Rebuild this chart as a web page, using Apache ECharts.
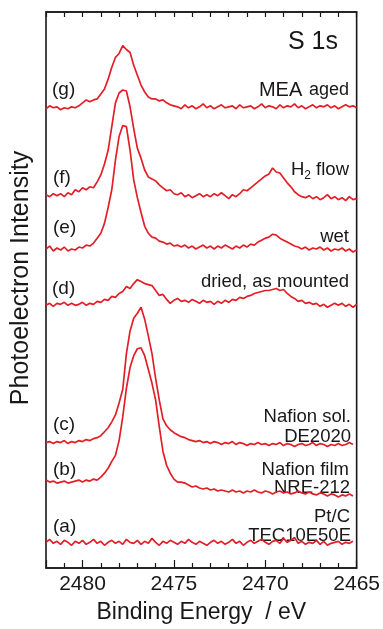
<!DOCTYPE html>
<html>
<head>
<meta charset="utf-8">
<title>S 1s XPS spectra</title>
<script src="https://cdn.jsdelivr.net/npm/echarts@6/dist/echarts.min.js"></script>
<style>
  html, body { margin: 0; padding: 0; background: #fff; }
  #chart { width: 383px; height: 629px; }
</style>
</head>
<body>
<div id="chart"></div>
<script>
// binding energy grid: 2482 eV downwards in 0.2 eV steps
var energyStart = 2482;
var energyStep = 0.2;
var xTicks = [2480, 2475, 2470, 2465];

// stacked spectra, arbitrary intensity units (offsets already included)
var specG = [470,473,471,472,469,471,470,472,471,473,
  476,479,477,479,480,485,490,500,512,522,
  526,534,530,527,514,504,494,487,482,480,
  480,478,479,476,474,473,
  472,470,474,471,473,470,472,475,471,473,
  470,472,474,471,472,473,470,474,471,472,
  473,470,472,475,471,473,472,470,474,471,
  473,472,475,471,473,470,472,474,471,473,
  472,474,471,473,470,472,474,472,473,471];
var specF = [383,381,384,382,384,381,385,383,388,386,
  390,388,391,390,396,403,414,428,452,476,
  486,489,488,472,450,430,420,408,401,399,
  397,393,390,387,388,384,383,385,381,383,
  380,382,384,381,383,381,384,382,385,382,
  379,383,381,384,388,387,390,393,396,399,
  402,404,410,406,405,400,395,391,386,383,
  381,380,382,379,381,378,380,383,379,381,
  378,380,377,381,378,379];
var specE = [328,331,326,329,327,330,326,328,327,330,
  329,332,331,334,339,344,354,370,388,418,
  442,453,452,428,398,380,365,351,344,340,
  339,336,335,333,334,331,332,330,332,329,
  331,328,330,332,329,331,328,331,329,332,
  330,328,331,329,332,330,333,332,335,337,
  339,340,343,342,339,337,335,333,331,330,
  328,330,327,329,328,330,327,329,326,328,
  327,329,326,328,325,327];
var specD = [271,273,270,273,272,274,271,273,271,272,
  274,271,273,272,275,274,277,276,280,279,
  283,285,290,288,293,297,295,293,292,291,
  286,281,282,277,273,276,278,275,276,274,
  277,275,273,276,274,275,272,275,273,276,
  274,277,276,279,278,280,281,283,284,285,
  286,286,287,288,286,287,283,280,278,275,
  276,273,274,272,273,270,272,269,271,273,
  271,273,270,272,269,272];
var specC = [132,133,131,133,132,134,131,133,132,134,
  133,135,134,136,137,139,143,147,153,160,
  172,186,222,245,258,263,269,257,240,222,
  197,175,156,149,145,142,140,138,137,135,
  134,133,134,132,133,131,133,132,130,132,
  131,133,130,132,131,129,131,130,132,130,
  131,129,131,130,132,129,131,130,128,130,
  131,129,130,132,129,131,130,128,130,129,
  131,129,130,132,130];
var specB = [94,92,93,91,92,93,91,92,93,94,
  92,94,93,95,94,97,101,106,113,119,
  134,158,187,208,220,227,228,220,206,192,
  175,148,123,109,101,95,92,92,91,89,
  87,88,86,85,86,84,85,83,84,83,
  82,84,82,83,81,83,82,84,82,81,
  83,82,80,82,83,81,82,80,81,83,
  81,80,82,80,79,81,80,78,80,79,
  77,79,78,80,78];
var specA = [31,34,30,32,29,33,31,28,32,30,
  33,29,31,34,30,32,28,31,33,30,
  32,29,34,31,30,33,29,32,30,35,
  31,28,32,30,33,31,29,32,30,34,
  31,29,32,30,28,31,33,30,32,29,
  31,34,30,32,28,31,33,30,32,34,
  31,29,32,33,30,35,31,33,36,30,
  32,29,31,30,33,29,32,28,30,31,
  32,29,31,30,32];

var seriesNames = ['(g) MEA aged', '(f) H2 flow', '(e) wet', '(d) dried, as mounted',
  '(c) Nafion sol. DE2020', '(b) Nafion film NRE-212', '(a) Pt/C TEC10E50E'];
var spectra = [specG, specF, specE, specD, specC, specB, specA];

var ink = '#1a1718';
var red = '#e41e26';
var font = '"Liberation Sans", Arial, sans-serif';

function toPoints(values) {
  return values.map(function (v, i) {
    return [+(energyStart - energyStep * i).toFixed(1), v];
  });
}

// text annotation helper
function txt(text, x, y, size, align) {
  return {
    type: 'text', x: x, y: y, silent: true,
    style: { text: text, fill: ink, fontSize: size, fontFamily: font,
      align: align || 'right', verticalAlign: 'middle' }
  };
}

var chart = echarts.init(document.getElementById('chart'), null, { renderer: 'canvas' });

var tickCommon = {
  min: 2465, max: 2482, interval: 5, inverse: true, type: 'value',
  splitLine: { show: false },
  minorSplitLine: { show: false },
  axisLine: { show: true, lineStyle: { color: ink, width: 1.6 } },
  axisTick: { show: true, inside: true, length: 8, lineStyle: { color: ink, width: 1.2 } },
  minorTick: { show: true, splitNumber: 5, length: 5, lineStyle: { color: ink, width: 1.2 } }
};

chart.setOption({
  animation: false,
  backgroundColor: '#fff',
  grid: {
    left: 46, right: 24, top: 12, bottom: 54,
    show: true, borderColor: ink, borderWidth: 1.6
  },
  xAxis: [
    Object.assign({}, tickCommon, {
      position: 'bottom',
      name: 'Binding Energy  / eV',
      nameLocation: 'middle',
      nameGap: 33,
      nameTextStyle: { color: ink, fontSize: 23, fontFamily: font },
      axisLabel: {
        color: ink, fontSize: 21, fontFamily: font, margin: 6,
        formatter: function (v) { return xTicks.indexOf(v) >= 0 ? String(v) : ''; }
      }
    }),
    Object.assign({}, tickCommon, {
      position: 'top',
      axisTick: { show: true, inside: true, length: 5, lineStyle: { color: ink, width: 1.2 } },
      axisLabel: { show: false }
    })
  ],
  yAxis: {
    type: 'value', min: 5, max: 568,
    name: 'Photoelectron Intensity',
    nameLocation: 'middle',
    nameGap: 12,
    nameTextStyle: { color: ink, fontSize: 25, fontFamily: font, padding: [0, 0, 0, 24] },
    axisLine: { show: false },
    axisTick: { show: false },
    axisLabel: { show: false },
    splitLine: { show: false }
  },
  series: spectra.map(function (s, k) {
    return {
      name: seriesNames[k],
      type: 'line',
      data: toPoints(s),
      showSymbol: false,
      symbol: 'none',
      lineStyle: { color: red, width: 1.7 },
      silent: true
    };
  }),
  graphic: [
    txt('S 1s', 338, 42, 25),
    txt('(g)', 52, 90, 19, 'left'),
    txt('(f)', 53, 178, 19, 'left'),
    txt('(e)', 53, 228, 19, 'left'),
    txt('(d)', 52, 289, 19, 'left'),
    txt('(c)', 53, 425, 19, 'left'),
    txt('(b)', 53, 470, 19, 'left'),
    txt('(a)', 53, 527, 19, 'left'),
    {
      type: 'text', x: 349, y: 90, silent: true,
      style: {
        text: '{big|MEA}  {sm|aged}', align: 'right', verticalAlign: 'middle',
        rich: {
          big: { fontSize: 20, fontFamily: font, fill: ink },
          sm: { fontSize: 18, fontFamily: font, fill: ink }
        }
      }
    },
    {
      type: 'text', x: 349, y: 170, silent: true,
      style: {
        text: '{n|H}{s|2}{n| flow}', align: 'right', verticalAlign: 'middle',
        rich: {
          n: { fontSize: 18.5, fontFamily: font, fill: ink },
          s: { fontSize: 12, fontFamily: font, fill: ink, padding: [12, 0, 0, 0] }
        }
      }
    },
    txt('wet', 349, 237, 18.5),
    txt('dried, as mounted', 349, 282, 18.5),
    txt('Nafion sol.', 351, 417, 18.5),
    txt('DE2020', 351, 437, 18.5),
    txt('Nafion film', 349, 470, 18.5),
    txt('NRE-212', 350, 488, 18.5),
    txt('Pt/C', 350, 517, 18.5),
    txt('TEC10E50E', 351, 536, 18.5)
  ]
});
</script>
</body>
</html>
